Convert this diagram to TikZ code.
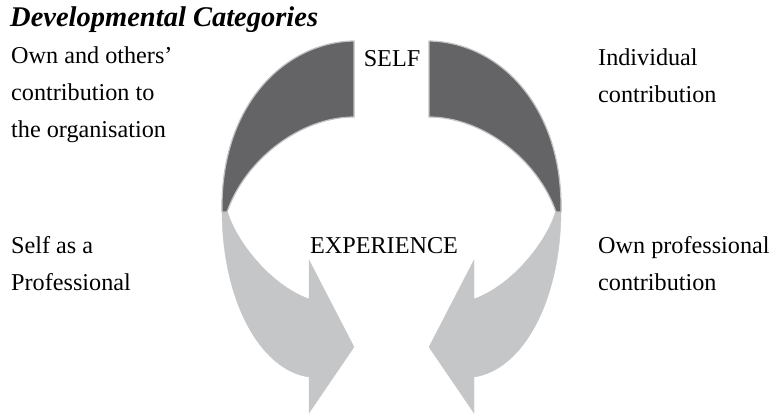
\documentclass[tikz,border=0pt]{standalone}
\usepackage{fontspec}
\setmainfont{Liberation Serif}
\usetikzlibrary{positioning}

\definecolor{darkband}{HTML}{646466}
\definecolor{lightband}{HTML}{C5C6C8}
\definecolor{bandedge}{HTML}{C2C2C4}

\begin{document}
\begin{tikzpicture}[
        x=1pt, y=-1pt,
        every node/.style={font=\fontsize{24.2}{37}\selectfont, inner sep=0pt},
        label/.style={align=left, anchor=base west},
        centre/.style={anchor=base},
        upper/.style={fill=darkband, draw=bandedge, line width=1.2pt, line join=round},
        lower/.style={fill=lightband, draw=lightband, line width=0.4pt}
    ]

    \useasboundingbox (0,0) rectangle (778,415);

    % the two halves of the loop, the right one mirrored
    \foreach \shift/\flip in {0/1, 783/-1} {
        \begin{scope}[xshift=\shift pt, xscale=\flip]
            % light arrow, drawn first
            \path[lower] (222,200) -- (222,210)
                .. controls (222,300) and (260,370) .. (309,377)
                -- (309,413) -- (354,347) -- (309,260) -- (309,299)
                .. controls (270,285) and (235,240) .. (227,210) -- (227,200) -- cycle;
            % dark band on top
            \path[upper] (354,41)
                .. controls (285,42) and (220,105) .. (222,212)
                -- (227,212)
                .. controls (245,160) and (300,117) .. (354,117) -- cycle;
        \end{scope}
    }

    \node[label, font=\fontsize{28.5}{30}\selectfont\bfseries\itshape] (title) at (10,27) {Developmental Categories};

    % base anchor sits on the last line
    \node[label] (ownothers) at (11,137) {Own and others’\\contribution to\\the organisation};
    \node[label] (selfprof) at (11,290) {Self as a\\Professional};
    \node[label] (individual) at (598,102) {Individual\\contribution};
    \node[label] (ownprof) at (598,290) {Own professional\\contribution};

    \node[centre] (self) at (392,66) {SELF};
    \node[centre] (experience) at (384,253) {EXPERIENCE};

\end{tikzpicture}
\end{document}
